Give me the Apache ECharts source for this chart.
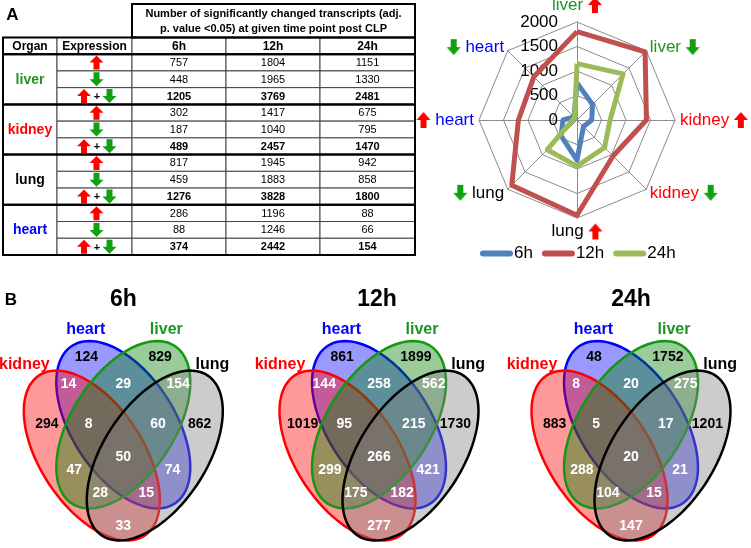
<!DOCTYPE html>
<html><head><meta charset="utf-8">
<script src="https://cdn.jsdelivr.net/npm/echarts@6/dist/echarts.min.js"></script>
<style>html,body{margin:0;padding:0;background:#fff}#main{width:751px;height:548px}</style>
</head><body><div id="main"></div>
<script>
// ================= DATA =================
const organs = ['liver', 'kidney', 'lung', 'heart'];
const timePoints = ['6h', '12h', '24h'];
const columnHeaders = ['Organ', 'Expression'];
const headerText = 'Number of significantly changed transcripts (adj.\np. value <0.05) at given time point post CLP';
// values per organ, ordered [6h, 12h, 24h]
const liverUp = [757, 1804, 1151];
const liverDown = [448, 1965, 1330];
const liverTotal = [1205, 3769, 2481];
const kidneyUp = [302, 1417, 675];
const kidneyDown = [187, 1040, 795];
const kidneyTotal = [489, 2457, 1470];
const lungUp = [817, 1945, 942];
const lungDown = [459, 1883, 858];
const lungTotal = [1276, 3828, 1800];
const heartUp = [286, 1196, 88];
const heartDown = [88, 1246, 66];
const heartTotal = [374, 2442, 154];
const radarTicks = [0, 500, 1000, 1500, 2000];
// radar axes, clockwise from top
const radarAxisOrgans = ['liver', 'liver', 'kidney', 'kidney', 'lung', 'lung', 'heart', 'heart'];
const radarAxisDirs = ['up', 'down', 'up', 'down', 'up', 'down', 'up', 'down'];
// Venn sets (drawing order) and regions
const vennSets = ['heart', 'kidney', 'liver', 'lung'];
const vennRegions = ['heart', 'liver', 'kidney', 'lung', 'kidney&heart', 'heart&liver', 'liver&lung',
  'kidney&heart&liver', 'heart&liver&lung', 'all', 'kidney&liver', 'heart&lung',
  'kidney&liver&lung', 'kidney&heart&lung', 'kidney&lung'];
const venn6h = [124, 829, 294, 862, 14, 29, 154, 8, 60, 50, 47, 74, 28, 15, 33];
const venn12h = [861, 1899, 1019, 1730, 144, 258, 562, 95, 215, 266, 299, 421, 175, 182, 277];
const venn24h = [48, 1752, 883, 1201, 8, 20, 275, 5, 17, 20, 288, 21, 104, 15, 147];

// ================= STYLE / LAYOUT =================
const FF = '"Liberation Sans", Arial, Helvetica, sans-serif';
const GREEN = '#1e961e', RED = '#ff0000', BLUE = '#0000ff', AGREEN = '#12a012';
const organColor = { liver: GREEN, kidney: RED, lung: '#000000', heart: BLUE };
const organRich = { liver: 'g', kidney: 'r', lung: 'k', heart: 'b' };
const COLS = [0, 54, 129, 223, 317, 412];

const upArr = { liver: liverUp, kidney: kidneyUp, lung: lungUp, heart: heartUp };
const downArr = { liver: liverDown, kidney: kidneyDown, lung: lungDown, heart: heartDown };
const totArr = { liver: liverTotal, kidney: kidneyTotal, lung: lungTotal, heart: heartTotal };

// ---- table cells ----
const cells = [];
cells.push({ c: [2, 5], r: [0, 2], text: headerText, font: 'bold 11px ' + FF, lh: 15 });
columnHeaders.concat(timePoints).forEach((h, i) => cells.push({ c: [i, i + 1], r: [2, 3], text: h, font: 'bold 12px ' + FF }));
const frames = [[2, 0, 5, 2], [0, 2, 5, 3]];
organs.forEach((o, g) => {
  const r0 = 3 + g * 3;
  frames.push([0, r0, 5, r0 + 3]);
  cells.push({ c: [0, 1], r: [r0, r0 + 3], text: o, font: 'bold 14px ' + FF, color: organColor[o] });
  const rowsArr = [upArr[o], downArr[o], totArr[o]];
  ['up', 'down', 'both'].forEach((k, j) => {
    cells.push({ c: [1, 2], r: [r0 + j, r0 + j + 1], arrow: k });
    timePoints.forEach((t, ti) => {
      cells.push({ c: [2 + ti, 3 + ti], r: [r0 + j, r0 + j + 1], text: String(rowsArr[j][ti]),
        font: (j === 2 ? 'bold ' : '') + '11px ' + FF });
    });
  });
});

function arrowPoints(cx, cy, dir) {
  const hw = 7, sw = 3, hh = 7, s = dir === 'up' ? 1 : -1;
  return [[cx, cy - s * hh], [cx + hw, cy], [cx + sw, cy], [cx + sw, cy + s * hh],
          [cx - sw, cy + s * hh], [cx - sw, cy], [cx - hw, cy]];
}

function renderCell(params, api) {
  const cell = cells[params.dataIndex];
  const p0 = api.coord([api.value(0), api.value(1)]);
  const p1 = api.coord([api.value(2), api.value(3)]);
  const x = p0[0], y = p0[1], w = p1[0] - x, h = p1[1] - y;
  const cx = x + w / 2, cy = y + h / 2;
  const ch = [{ type: 'rect', shape: { x, y, width: w, height: h },
    style: { fill: '#fff', stroke: '#444', lineWidth: 1 } }];
  if (cell.text != null) {
    ch.push({ type: 'text', x: cx, y: cy + 0.5, style: { text: cell.text, font: cell.font, fill: cell.color || '#000',
      align: 'center', verticalAlign: 'middle', lineHeight: cell.lh || 14 } });
  }
  if (cell.arrow === 'up' || cell.arrow === 'down') {
    ch.push({ type: 'polygon', shape: { points: arrowPoints(cx + 2, cy, cell.arrow) },
      style: { fill: cell.arrow === 'up' ? RED : AGREEN } });
  } else if (cell.arrow === 'both') {
    ch.push({ type: 'polygon', shape: { points: arrowPoints(cx - 10.5, cy, 'up') }, style: { fill: RED } });
    ch.push({ type: 'polygon', shape: { points: arrowPoints(cx + 15, cy, 'down') }, style: { fill: AGREEN } });
    ch.push({ type: 'text', x: cx + 2.5, y: cy + 1, style: { text: '+', font: 'bold 11px ' + FF, fill: '#000',
      align: 'center', verticalAlign: 'middle' } });
  }
  return { type: 'group', children: ch };
}
function renderFrame(params, api) {
  const p0 = api.coord([api.value(0), api.value(1)]);
  const p1 = api.coord([api.value(2), api.value(3)]);
  return { type: 'rect', shape: { x: p0[0], y: p0[1], width: p1[0] - p0[0], height: p1[1] - p0[1] },
    style: { fill: 'none', stroke: '#000', lineWidth: 2 } };
}

// ---- arrow images for radar names ----
function arrowCanvas(dir, color) {
  const c = document.createElement('canvas');
  c.width = 14; c.height = 16;
  const ctx = c.getContext('2d');
  ctx.fillStyle = color;
  ctx.beginPath();
  if (dir === 'up') {
    ctx.moveTo(7, 0); ctx.lineTo(14, 8); ctx.lineTo(10, 8); ctx.lineTo(10, 16);
    ctx.lineTo(4, 16); ctx.lineTo(4, 8); ctx.lineTo(0, 8);
  } else {
    ctx.moveTo(7, 16); ctx.lineTo(14, 8); ctx.lineTo(10, 8); ctx.lineTo(10, 0);
    ctx.lineTo(4, 0); ctx.lineTo(4, 8); ctx.lineTo(0, 8);
  }
  ctx.closePath(); ctx.fill();
  return c;
}
const upImg = arrowCanvas('up', RED), dnImg = arrowCanvas('down', AGREEN);

// ECharts lays radar indicators counter-clockwise: reorder so the picture reads clockwise
const radarOrder = radarAxisOrgans.map((_, k) => (8 - k) % 8);
const indicators = radarOrder.map((vi, k) => {
  const o = radarAxisOrgans[vi], d = radarAxisDirs[vi];
  const arrow = d === 'up' ? '{up| }' : '{dn| }';
  const word = '{' + organRich[o] + '|' + o + '}';
  const leftSide = vi >= 5;
  const ind = { name: leftSide ? arrow + ' ' + word : word + ' ' + arrow, min: radarTicks[0], max: radarTicks[radarTicks.length - 1] };
  if (k === 0) ind.axisLabel = { show: true };
  return ind;
});
const radarColors = ['#4f81bd', '#c0504d', '#9bbb59'];
const radarData = timePoints.map((t, ti) => ({
  name: t,
  value: radarOrder.map(vi => (radarAxisDirs[vi] === 'up' ? upArr : downArr)[radarAxisOrgans[vi]][ti]),
  lineStyle: { color: radarColors[ti], width: 5 },
  itemStyle: { color: radarColors[ti] }
}));

// ---- Venn layout (unit coordinates) ----
const vennCentersPx = [123.3, 379, 631];
const vennEllipses = [ // heart, kidney, liver, lung
  { cx: 0.5, cy: 0.57, a: 0.35, ang: 135, fill: 'rgba(0,0,255,0.4)', stroke: '#0000ff' },
  { cx: 0.366, cy: 0.465, a: 0.357, ang: 135, fill: 'rgba(255,0,0,0.4)', stroke: '#ff0000' },
  { cx: 0.5, cy: 0.57, a: 0.35, ang: 45, fill: 'rgba(0,128,0,0.4)', stroke: '#119911' },
  { cx: 0.634, cy: 0.465, a: 0.357, ang: 45, fill: 'rgba(128,128,128,0.4)', stroke: '#000000' }
];
const vennSetLabelPos = [[0.340, 0.895], [0.079, 0.775], [0.683, 0.895], [0.879, 0.775]];
const vennSetLabelColor = [BLUE, RED, GREEN, '#000'];
const vennRegionPos = [[0.343, 0.80], [0.657, 0.80], [0.175, 0.573], [0.825, 0.573],
  [0.267, 0.709], [0.5, 0.709], [0.733, 0.709], [0.352, 0.573], [0.648, 0.573],
  [0.5, 0.459], [0.291, 0.414], [0.709, 0.414], [0.402, 0.337], [0.598, 0.337], [0.5, 0.225]];
const vennData = [venn6h, venn12h, venn24h];

function renderEllipse(params, api) {
  const e = vennEllipses[params.dataIndex];
  const a = e.a, b = 0.2, th = e.ang * Math.PI / 180;
  const pts = [];
  for (let i = 0; i < 120; i++) {
    const t = i / 120 * 2 * Math.PI;
    const ux = api.value(0) + a * Math.cos(t) * Math.cos(th) - b * Math.sin(t) * Math.sin(th);
    const uy = api.value(1) + a * Math.cos(t) * Math.sin(th) + b * Math.sin(t) * Math.cos(th);
    pts.push(api.coord([ux, uy]));
  }
  const lp = api.coord(vennSetLabelPos[params.dataIndex]);
  return { type: 'group', children: [
    { type: 'polygon', shape: { points: pts }, style: { fill: e.fill, stroke: e.stroke, lineWidth: 2.5 } },
    { type: 'text', x: lp[0], y: lp[1], z2: 50, style: { text: vennSets[params.dataIndex], font: 'bold 16px ' + FF,
      fill: vennSetLabelColor[params.dataIndex], align: 'center', verticalAlign: 'middle' } }
  ] };
}
function renderRegion(params, api) {
  const p = api.coord([api.value(0), api.value(1)]);
  return { type: 'text', x: p[0], y: p[1], style: { text: String(api.value(2)), font: 'bold 14px ' + FF,
    fill: params.dataIndex < 4 ? '#000' : '#fff', align: 'center', verticalAlign: 'middle' } };
}

const grids = [{ left: 3, top: 4, width: 412, height: 251 }];
const xAxes = [{ gridIndex: 0, type: 'value', min: 0, max: 412, show: false }];
const yAxes = [{ gridIndex: 0, type: 'value', min: 0, max: 15, inverse: true, show: false }];
const series = [
  { type: 'custom', coordinateSystem: 'cartesian2d', xAxisIndex: 0, yAxisIndex: 0, z: 2,
    data: cells.map(c => [COLS[c.c[0]], c.r[0], COLS[c.c[1]], c.r[1]]), renderItem: renderCell },
  { type: 'custom', coordinateSystem: 'cartesian2d', xAxisIndex: 0, yAxisIndex: 0, z: 3,
    data: frames.map(f => [COLS[f[0]], f[1], COLS[f[2]], f[3]]), renderItem: renderFrame }
];
vennCentersPx.forEach((cxp, k) => {
  grids.push({ left: cxp - 117.5, top: 298.5, width: 235, height: 255 });
  xAxes.push({ gridIndex: k + 1, type: 'value', min: 0, max: 1, show: false });
  yAxes.push({ gridIndex: k + 1, type: 'value', min: 0.15, max: 1, show: false });
  series.push({ type: 'custom', coordinateSystem: 'cartesian2d', xAxisIndex: k + 1, yAxisIndex: k + 1, z: 2,
    data: vennEllipses.map(e => [e.cx, e.cy]), renderItem: renderEllipse });
  series.push({ type: 'custom', coordinateSystem: 'cartesian2d', xAxisIndex: k + 1, yAxisIndex: k + 1, z: 4,
    data: vennRegionPos.map((p, i) => [p[0], p[1], vennData[k][i]]), renderItem: renderRegion });
});
series.push({ type: 'radar', radarIndex: 0, symbol: 'none', data: radarData, z: 5 });

const chart = echarts.init(document.getElementById('main'), null, { renderer: 'canvas' });
chart.setOption({
  animation: false,
  backgroundColor: '#ffffff',
  textStyle: { fontFamily: FF },
  grid: grids, xAxis: xAxes, yAxis: yAxes,
  radar: {
    center: [577, 120], radius: 98, startAngle: 90, splitNumber: 4, shape: 'polygon',
    nameGap: 5,
    indicator: indicators,
    axisName: { fontSize: 17, fontFamily: FF, color: '#000',
      rich: {
        g: { color: GREEN, fontSize: 17, fontFamily: FF },
        r: { color: RED, fontSize: 17, fontFamily: FF },
        k: { color: '#000', fontSize: 17, fontFamily: FF },
        b: { color: BLUE, fontSize: 17, fontFamily: FF },
        up: { width: 14, height: 16, backgroundColor: { image: upImg } },
        dn: { width: 14, height: 16, backgroundColor: { image: dnImg } }
      } },
    splitLine: { lineStyle: { color: '#8c8c8c', width: 1 } },
    splitArea: { show: false },
    axisLine: { lineStyle: { color: '#8c8c8c', width: 1 } },
    axisTick: { show: false },
    axisLabel: { show: false, fontSize: 17, fontFamily: FF, color: '#000', margin: 19,
      formatter: v => String(v) }
  },
  legend: { data: timePoints, left: 480, top: 245, padding: 0, itemWidth: 33, itemHeight: 6, itemGap: 9,
    icon: 'path://M3,0 L30,0 A3,3 0 0 1 30,6 L3,6 A3,3 0 0 1 3,0 Z',
    textStyle: { fontSize: 17, fontFamily: FF, color: '#000', padding: [0, 0, 0, -4] } },
  graphic: [
    { type: 'text', x: 12.5, y: 15.5, style: { text: 'A', font: 'bold 17px ' + FF, fill: '#000', align: 'center', verticalAlign: 'middle' } },
    { type: 'text', x: 11, y: 300, style: { text: 'B', font: 'bold 17px ' + FF, fill: '#000', align: 'center', verticalAlign: 'middle' } }
  ].concat(timePoints.map((t, k) => ({ type: 'text', x: vennCentersPx[k] + (k === 1 ? -2 : 0), y: 300,
    style: { text: t, font: 'bold 23px ' + FF, fill: '#000', align: 'center', verticalAlign: 'middle' } }))),
  series: series
});
</script></body></html>
